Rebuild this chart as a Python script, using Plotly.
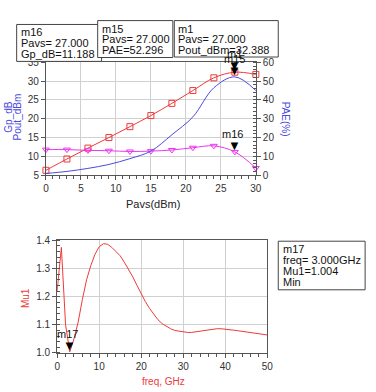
import plotly.graph_objects as go

# ---- data ----
pavs = [0, 3, 6, 9, 12, 15, 18, 21, 24, 27, 30]
pout_dbm = [6.3, 9.3, 12.2, 15.0, 17.9, 20.85, 24.1, 27.5, 30.9, 32.388, 31.8]
gp_db = [11.8, 11.8, 11.6, 11.5, 11.3, 11.4, 11.7, 12.3, 12.8, 11.188, 6.9]
pae = [0.9, 2.0, 3.6, 5.7, 8.8, 12.8, 21.5, 31.0, 46.5, 52.296, 45.0]

freq = list(range(0, 51))
mu1 = [1.22, 1.375, 1.10, 1.004, 1.05, 1.11, 1.19, 1.26, 1.31, 1.35,
       1.377, 1.388, 1.386, 1.375, 1.36, 1.345, 1.322, 1.298, 1.27, 1.24,
       1.21, 1.182, 1.158, 1.137, 1.118, 1.104, 1.094, 1.086, 1.08, 1.077,
       1.075, 1.073, 1.073, 1.075, 1.078, 1.081, 1.083, 1.085, 1.086, 1.086,
       1.085, 1.083, 1.081, 1.079, 1.077, 1.075, 1.073, 1.071, 1.069, 1.067,
       1.064]

m_pavs = 27
m1_val = 32.388
m15_val = 52.296
m16_val = 11.188
m17_freq = 3
m17_val = 1.004

FONT = "Liberation Sans, Arial, sans-serif"
RED = "#ee3a3a"
MAG = "#ee33ee"
BLUE = "#4a4ae0"
AX = "#555555"
GRID = "#d0d0d0"

fig = go.Figure()
fig.add_trace(go.Scatter(x=pavs, y=pout_dbm, mode="lines+markers", xaxis="x", yaxis="y",
                         line=dict(color=RED, width=1, shape="spline"),
                         marker=dict(symbol="square-open", size=6, color=RED, line=dict(width=1)),
                         cliponaxis=False, showlegend=False))
fig.add_trace(go.Scatter(x=pavs, y=gp_db, mode="lines+markers", xaxis="x", yaxis="y",
                         line=dict(color=MAG, width=1, shape="spline"),
                         marker=dict(symbol="triangle-down-open", size=6, color=MAG, line=dict(width=1)),
                         cliponaxis=False, showlegend=False))
fig.add_trace(go.Scatter(x=pavs, y=pae, mode="lines", xaxis="x", yaxis="y2",
                         line=dict(color=BLUE, width=1, shape="spline"),
                         cliponaxis=False, showlegend=False))
fig.add_trace(go.Scatter(x=freq, y=mu1, mode="lines", xaxis="x2", yaxis="y3",
                         line=dict(color=RED, width=1),
                         showlegend=False))

tickfont = dict(family=FONT, size=10, color="#333333")
common = dict(showline=True, linecolor=AX, linewidth=1, gridcolor=GRID, gridwidth=1,
              tickfont=tickfont, ticks="outside", ticklen=4, tickcolor=AX, zeroline=False)

fig.update_layout(
    width=376, height=392, margin=dict(l=0, r=0, t=0, b=0),
    paper_bgcolor="white", plot_bgcolor="white",
    font=dict(family=FONT),
    xaxis=dict(domain=[0.117, 0.689], anchor="y", range=[0, 30], dtick=5, tick0=0,
               minor=dict(dtick=1, ticks="outside", ticklen=3, tickcolor=AX, showgrid=False),
               mirror=True, **common),
    yaxis=dict(domain=[0.556, 0.852], anchor="x", range=[5, 35], dtick=5, tick0=5, **common),
    yaxis2=dict(overlaying="y", side="right", anchor="x", range=[0, 60], dtick=10, tick0=0,
                showgrid=False, minor=dict(dtick=2, ticks="inside", ticklen=3, tickcolor=AX),
                **{k: v for k, v in common.items() if k not in ("gridcolor", "gridwidth")}),
    xaxis2=dict(domain=[0.1476, 0.72], anchor="y3", range=[0, 50], dtick=10, tick0=0,
                minor=dict(dtick=2, ticks="outside", ticklen=3, tickcolor=AX, showgrid=False),
                mirror=True, **common),
    yaxis3=dict(domain=[0.0893, 0.385], anchor="x2", range=[1.0, 1.4], dtick=0.1, tick0=1.0,
                tickformat=".1f",
                minor=dict(dtick=0.02, ticks="inside", ticklen=3, tickcolor=AX, showgrid=False),
                mirror=True, **common),
)

ann = []
# axis titles
ann.append(dict(text="Gp_dB", x=6, y=114, textangle=-90, font=dict(size=10, color=BLUE)))
ann.append(dict(text="Pout_dBm", x=15, y=114, textangle=-90, font=dict(size=10, color=BLUE)))
ann.append(dict(text="PAE(%)", x=289, y=116, textangle=90, font=dict(size=10, color=BLUE)))
ann.append(dict(text="Pavs(dBm)", x=154, y=204, font=dict(size=11, color="#222222")))
ann.append(dict(text="Mu1", x=23, y=300, textangle=-90, font=dict(size=10, color=RED)))
ann.append(dict(text="freq, GHz", x=164, y=386, font=dict(size=10, color=RED)))
out = []
for a in ann:
    a.update(xref="paper", yref="paper", showarrow=False, xanchor="center", yanchor="middle")
    a["x"] = a["x"] / 376
    a["y"] = 1 - a["y"] / 392
    out.append(a)

# marker boxes
boxes = [
    (14, 19, 101, 57, ["m16", "Pavs= 27.000", "Gp_dB=11.188"], 16.5, [26.5, 37.8, 49.3]),
    (97, 15, 174, 53, ["m15", "Pavs= 27.000", "PAE=52.296"], 99.5, [23.3, 34.3, 45.7]),
    (175.5, 15, 282, 52.5, ["m1", "Pavs= 27.000", "Pout_dBm=32.388"], 177.5, [23.3, 34.3, 45.7]),
    (282, 242, 371, 292, ["m17", "freq= 3.000GHz", "Mu1=1.004", "Min"], 285, [250, 261.5, 272.7, 284]),
]
shapes = []
for (x0, y0, x1, y1, lines, tx, tys) in boxes:
    shapes.append(dict(type="rect", xref="paper", yref="paper",
                       x0=x0 / 376, x1=x1 / 376, y0=1 - y0 / 392, y1=1 - y1 / 392,
                       line=dict(color="#444444", width=1), fillcolor="white", layer="above"))
    for t, ty in zip(lines, tys):
        out.append(dict(text=t, xref="paper", yref="paper", x=tx / 376, y=1 - ty / 392,
                        xanchor="left", yanchor="middle", showarrow=False,
                        font=dict(size=11, color="#111111")))

# marker triangles and labels (data coords)
def tri(xref, yref, x, y, label, lx=0):
    out.append(dict(text="▼", xref=xref, yref=yref, x=x, y=y, xanchor="center", yanchor="bottom",
                    yshift=-3, showarrow=False, font=dict(size=13, color="black")))
    if label:
        out.append(dict(text=label, xref=xref, yref=yref, x=x, y=y, xanchor="center", yanchor="bottom",
                        yshift=10, xshift=lx, showarrow=False, font=dict(size=11, color="#111111")))

tri("x", "y", m_pavs, m1_val, "m1")
tri("x", "y2", m_pavs, m15_val, "m15")
tri("x", "y", m_pavs, m16_val, "m16", lx=-2)
tri("x2", "y3", m17_freq, m17_val, "m17", lx=-2)

fig.update_layout(annotations=out, shapes=shapes)
fig.write_html("out.html")
